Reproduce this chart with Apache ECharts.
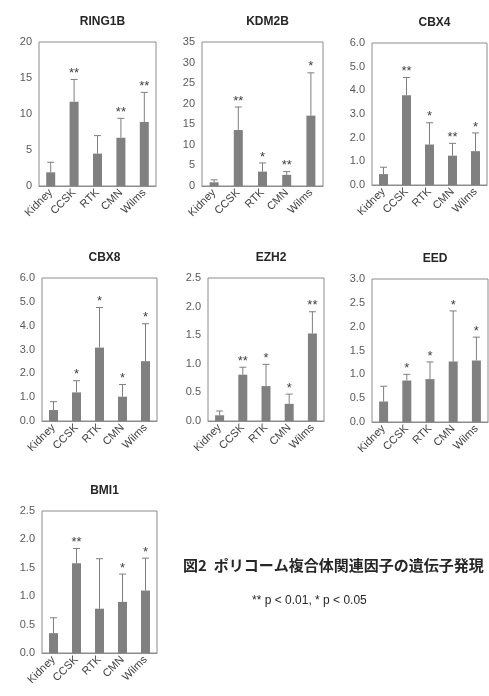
<!DOCTYPE html>
<html>
<head>
<meta charset="utf-8">
<script src="https://cdn.jsdelivr.net/npm/echarts@6/dist/echarts.min.js"></script>
<style>
html,body{margin:0;padding:0;background:#fff;}
#c{width:489px;height:696px;}
</style>
</head>
<body>
<div id="c"></div>
<script>
const categories = ['Kidney', 'CCSK', 'RTK', 'CMN', 'Wilms'];

const ring1bMean = [1.9, 11.7, 4.5, 6.7, 8.9];
const ring1bUpper = [3.3, 14.8, 7.0, 9.4, 13.0];
const ring1bSig = ['', '**', '', '**', '**'];

const kdm2bMean = [0.9, 13.6, 3.5, 2.7, 17.1];
const kdm2bUpper = [1.5, 19.2, 5.6, 3.5, 27.5];
const kdm2bSig = ['', '**', '*', '**', '*'];

const cbx4Mean = [0.46, 3.79, 1.71, 1.24, 1.43];
const cbx4Upper = [0.75, 4.54, 2.63, 1.76, 2.2];
const cbx4Sig = ['', '**', '*', '**', '*'];

const cbx8Mean = [0.46, 1.2, 3.08, 1.02, 2.51];
const cbx8Upper = [0.81, 1.69, 4.76, 1.53, 4.08];
const cbx8Sig = ['', '*', '*', '*', '*'];

const ezh2Mean = [0.1, 0.81, 0.61, 0.3, 1.53];
const ezh2Upper = [0.175, 0.94, 0.99, 0.47, 1.91];
const ezh2Sig = ['', '**', '*', '*', '**'];

const eedMean = [0.43, 0.87, 0.9, 1.27, 1.29];
const eedUpper = [0.75, 1.0, 1.26, 2.33, 1.78];
const eedSig = ['', '*', '*', '*', '*'];

const bmi1Mean = [0.35, 1.58, 0.78, 0.9, 1.1];
const bmi1Upper = [0.62, 1.84, 1.66, 1.39, 1.67];
const bmi1Sig = ['', '**', '', '*', '*'];

const yMaxes = [20, 35, 6, 6, 2.5, 3, 2.5];
const yIntervals = [5, 5, 1, 1, 0.5, 0.5, 0.5];
const yDecimals = [0, 0, 1, 1, 1, 1, 1];

const captionTitle = '図2  ポリコーム複合体関連因子の遺伝子発現';
const captionNote = '** p < 0.01, * p < 0.05';

const panels = [
  {name: 'RING1B', mean: ring1bMean, upper: ring1bUpper, sig: ring1bSig},
  {name: 'KDM2B', mean: kdm2bMean, upper: kdm2bUpper, sig: kdm2bSig},
  {name: 'CBX4', mean: cbx4Mean, upper: cbx4Upper, sig: cbx4Sig},
  {name: 'CBX8', mean: cbx8Mean, upper: cbx8Upper, sig: cbx8Sig},
  {name: 'EZH2', mean: ezh2Mean, upper: ezh2Upper, sig: ezh2Sig},
  {name: 'EED', mean: eedMean, upper: eedUpper, sig: eedSig},
  {name: 'BMI1', mean: bmi1Mean, upper: bmi1Upper, sig: bmi1Sig}
];

// layout boxes: left, top, width, height
const boxes = [
  [39, 42, 117, 144],
  [202, 42, 121, 144],
  [372, 43, 115, 142],
  [42, 278, 115, 143],
  [208, 278, 116, 143],
  [372, 279, 116, 143],
  [42, 511, 115, 142]
];

const FONT = '"Liberation Sans", Arial, sans-serif';

const grids = [], xAxes = [], yAxes = [], series = [], titles = [];
panels.forEach((p, i) => {
  const b = boxes[i];
  grids.push({left: b[0], top: b[1], width: b[2], height: b[3], show: true,
    borderColor: '#8c8c8c', borderWidth: 1, backgroundColor: 'transparent', containLabel: false});
  xAxes.push({type: 'category', gridIndex: i, data: categories,
    axisLine: {show: true, lineStyle: {color: '#8c8c8c'}},
    axisTick: {show: false},
    axisLabel: {rotate: 45, fontSize: 11, color: '#404040', fontFamily: FONT, margin: 5, interval: 0}});
  const dec = yDecimals[i];
  yAxes.push({type: 'value', gridIndex: i, min: 0, max: yMaxes[i], interval: yIntervals[i],
    axisLine: {show: false}, axisTick: {show: false}, splitLine: {show: false},
    axisLabel: {fontSize: 11, color: '#595959', fontFamily: FONT, margin: 7,
      formatter: v => v.toFixed(dec)}});
  series.push({type: 'bar', xAxisIndex: i, yAxisIndex: i, data: p.mean, barWidth: 9,
    itemStyle: {color: '#808080'}, silent: true, z: 2});
  const sig = p.sig;
  series.push({type: 'custom', xAxisIndex: i, yAxisIndex: i, z: 3, silent: true,
    data: p.mean.map((m, k) => [k, m, p.upper[k]]),
    renderItem: function (params, api) {
      const x = api.value(0);
      const p0 = api.coord([x, api.value(1)]);
      const p1 = api.coord([x, api.value(2)]);
      const half = 3.5;
      const style = {stroke: '#7f7f7f', lineWidth: 1};
      const children = [
        {type: 'line', shape: {x1: p0[0], y1: p0[1], x2: p1[0], y2: p1[1]}, style: style},
        {type: 'line', shape: {x1: p1[0] - half, y1: p1[1], x2: p1[0] + half, y2: p1[1]}, style: style}
      ];
      const s = sig[params.dataIndex];
      if (s) {
        children.push({type: 'text', style: {text: s, x: p1[0], y: p1[1] - 6,
          textAlign: 'center', textVerticalAlign: 'middle', fill: '#404040',
          font: '13px ' + FONT}});
      }
      return {type: 'group', children: children};
    }});
  titles.push({text: p.name, left: b[0] + b[2] / 2, top: b[1] - 31, textAlign: 'center',
    textStyle: {fontSize: 12, fontWeight: 'bold', color: '#262626', fontFamily: FONT}});
});

const chart = echarts.init(document.getElementById('c'), null, {renderer: 'canvas'});
chart.setOption({
  animation: false,
  backgroundColor: '#ffffff',
  title: titles,
  grid: grids,
  xAxis: xAxes,
  yAxis: yAxes,
  series: series,
  graphic: [
    {type: 'text', left: 183, top: 558, style: {text: captionTitle,
      font: 'bold 15px "Noto Sans CJK JP", sans-serif', fill: '#262626'}},
    {type: 'text', left: 252, top: 595, style: {text: captionNote,
      font: '12px ' + FONT, fill: '#262626'}}
  ]
});
</script>
</body>
</html>
